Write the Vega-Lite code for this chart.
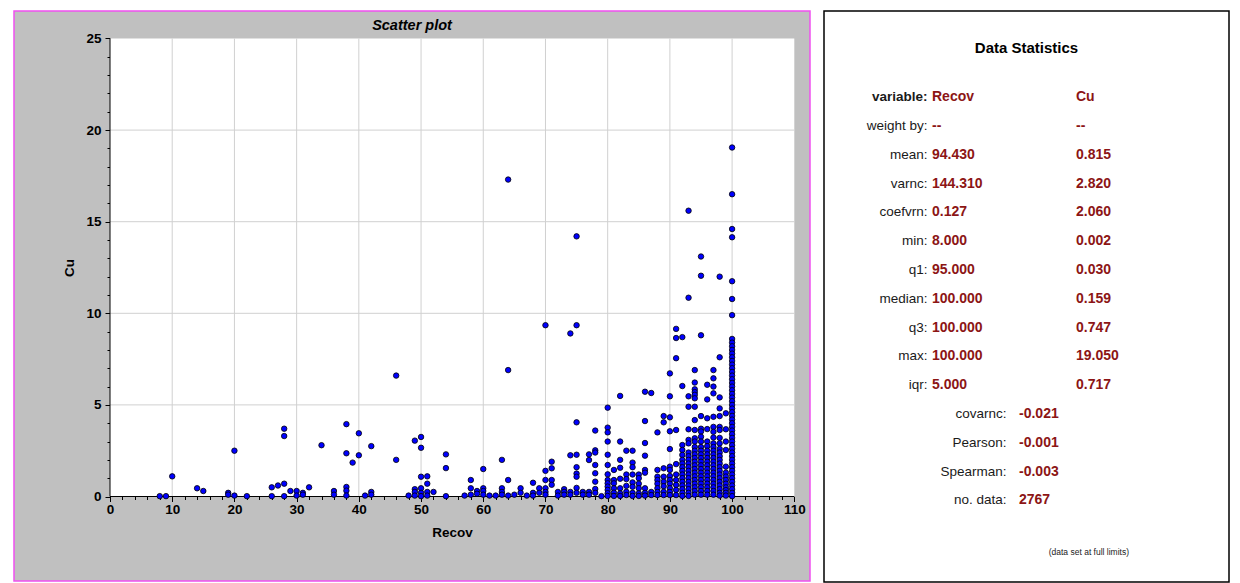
{
  "$schema": "https://vega.github.io/schema/vega-lite/v6.json",
  "background": "white",
  "padding": {"left": 13, "top": 10, "right": 0, "bottom": 0},
  "config": {"font": "Liberation Sans"},
  "spacing": 12,
  "datasets": {
    "samples": [
      {"Recov":8,"Cu":0.02},{"Recov":9,"Cu":0.02},{"Recov":10,"Cu":1.1},{"Recov":14,"Cu":0.45},{"Recov":15,"Cu":0.3},
      {"Recov":19,"Cu":0.2},{"Recov":19,"Cu":0.1},{"Recov":20,"Cu":2.5},{"Recov":20,"Cu":0.05},{"Recov":22,"Cu":0.02},
      {"Recov":26,"Cu":0.5},{"Recov":26,"Cu":0.02},{"Recov":27,"Cu":0.6},{"Recov":28,"Cu":3.7},{"Recov":28,"Cu":3.3},
      {"Recov":28,"Cu":0.7},{"Recov":28,"Cu":0.02},{"Recov":29,"Cu":0.3},{"Recov":30,"Cu":0.3},{"Recov":30,"Cu":0.05},
      {"Recov":31,"Cu":0.2},{"Recov":31,"Cu":0.1},{"Recov":32,"Cu":0.5},{"Recov":34,"Cu":2.8},{"Recov":36,"Cu":0.3},
      {"Recov":36,"Cu":0.1},{"Recov":38,"Cu":3.95},{"Recov":38,"Cu":2.36},{"Recov":38,"Cu":0.52},{"Recov":38,"Cu":0.32},
      {"Recov":38,"Cu":0.05},{"Recov":39,"Cu":1.85},{"Recov":40,"Cu":3.45},{"Recov":40,"Cu":2.25},{"Recov":41,"Cu":0.05},
      {"Recov":42,"Cu":2.75},{"Recov":42,"Cu":0.25},{"Recov":42,"Cu":0.1},{"Recov":46,"Cu":6.6},{"Recov":46,"Cu":2.0},
      {"Recov":48,"Cu":0.05},{"Recov":49,"Cu":3.05},{"Recov":49,"Cu":0.4},{"Recov":49,"Cu":0.25},{"Recov":49,"Cu":0.05},
      {"Recov":50,"Cu":3.25},{"Recov":50,"Cu":2.66},{"Recov":50,"Cu":1.08},{"Recov":50,"Cu":0.45},{"Recov":50,"Cu":0.2},
      {"Recov":50,"Cu":0.02},{"Recov":51,"Cu":1.1},{"Recov":51,"Cu":0.7},{"Recov":51,"Cu":0.25},{"Recov":51,"Cu":0.05},
      {"Recov":52,"Cu":0.25},{"Recov":54,"Cu":2.3},{"Recov":54,"Cu":1.55},{"Recov":54,"Cu":0.02},{"Recov":57,"Cu":0.05},
      {"Recov":58,"Cu":0.9},{"Recov":58,"Cu":0.45},{"Recov":58,"Cu":0.1},{"Recov":59,"Cu":0.3},{"Recov":59,"Cu":0.15},
      {"Recov":60,"Cu":1.5},{"Recov":60,"Cu":0.45},{"Recov":60,"Cu":0.3},{"Recov":60,"Cu":0.1},{"Recov":61,"Cu":0.05},
      {"Recov":62,"Cu":0.05},{"Recov":63,"Cu":2.0},{"Recov":63,"Cu":0.45},{"Recov":63,"Cu":0.25},{"Recov":63,"Cu":0.1},
      {"Recov":64,"Cu":17.3},{"Recov":64,"Cu":6.9},{"Recov":64,"Cu":0.9},{"Recov":64,"Cu":0.05},{"Recov":65,"Cu":0.1},
      {"Recov":66,"Cu":0.45},{"Recov":66,"Cu":0.2},{"Recov":67,"Cu":0.05},{"Recov":68,"Cu":0.75},{"Recov":68,"Cu":0.2},
      {"Recov":68,"Cu":0.05},{"Recov":69,"Cu":0.45},{"Recov":69,"Cu":0.2},{"Recov":70,"Cu":9.35},{"Recov":70,"Cu":1.4},
      {"Recov":70,"Cu":0.9},{"Recov":70,"Cu":0.45},{"Recov":70,"Cu":0.25},{"Recov":70,"Cu":0.1},{"Recov":71,"Cu":1.9},
      {"Recov":71,"Cu":1.54},{"Recov":71,"Cu":0.9},{"Recov":71,"Cu":0.64},{"Recov":72,"Cu":0.25},{"Recov":72,"Cu":0.05},
      {"Recov":73,"Cu":0.4},{"Recov":73,"Cu":0.25},{"Recov":73,"Cu":0.1},{"Recov":74,"Cu":8.9},{"Recov":74,"Cu":2.25},
      {"Recov":74,"Cu":0.25},{"Recov":74,"Cu":0.1},{"Recov":75,"Cu":14.2},{"Recov":75,"Cu":9.35},{"Recov":75,"Cu":4.05},
      {"Recov":75,"Cu":2.28},{"Recov":75,"Cu":1.6},{"Recov":75,"Cu":1.25},{"Recov":75,"Cu":1.08},{"Recov":75,"Cu":0.47},
      {"Recov":75,"Cu":0.2},{"Recov":76,"Cu":0.25},{"Recov":76,"Cu":0.1},{"Recov":77,"Cu":2.3},{"Recov":77,"Cu":1.99},
      {"Recov":77,"Cu":0.25},{"Recov":77,"Cu":0.1},{"Recov":78,"Cu":3.6},{"Recov":78,"Cu":2.52},{"Recov":78,"Cu":2.4},
      {"Recov":78,"Cu":1.72},{"Recov":78,"Cu":1.27},{"Recov":78,"Cu":0.81},{"Recov":78,"Cu":0.41},{"Recov":78,"Cu":0.2},
      {"Recov":79,"Cu":0.02},
      {"Recov":80,"Cu":4.85},{"Recov":80,"Cu":3.76},{"Recov":80,"Cu":3.5},{"Recov":80,"Cu":3.0},{"Recov":80,"Cu":2.28},
      {"Recov":80,"Cu":1.72},{"Recov":80,"Cu":1.21},{"Recov":80,"Cu":0.9},{"Recov":80,"Cu":0.72},{"Recov":80,"Cu":0.54},
      {"Recov":80,"Cu":0.36},{"Recov":80,"Cu":0.18},{"Recov":80,"Cu":0.03},
      {"Recov":81,"Cu":1.45},{"Recov":81,"Cu":0.9},{"Recov":81,"Cu":0.72},{"Recov":81,"Cu":0.45},{"Recov":81,"Cu":0.21},{"Recov":81,"Cu":0.03},
      {"Recov":82,"Cu":5.49},{"Recov":82,"Cu":3.0},{"Recov":82,"Cu":2.0},{"Recov":82,"Cu":1.57},{"Recov":82,"Cu":0.97},
      {"Recov":82,"Cu":0.45},{"Recov":82,"Cu":0.17},{"Recov":82,"Cu":0.03},
      {"Recov":83,"Cu":2.5},{"Recov":83,"Cu":1.2},{"Recov":83,"Cu":0.95},{"Recov":83,"Cu":0.58},{"Recov":83,"Cu":0.26},{"Recov":83,"Cu":0.08},
      {"Recov":84,"Cu":2.5},{"Recov":84,"Cu":1.85},{"Recov":84,"Cu":1.6},{"Recov":84,"Cu":1.2},{"Recov":84,"Cu":0.77},
      {"Recov":84,"Cu":0.53},{"Recov":84,"Cu":0.2},{"Recov":84,"Cu":0.03},
      {"Recov":85,"Cu":1.2},{"Recov":85,"Cu":1.0},{"Recov":85,"Cu":0.7},{"Recov":85,"Cu":0.45},{"Recov":85,"Cu":0.17},{"Recov":85,"Cu":0.03},
      {"Recov":86,"Cu":5.72},{"Recov":86,"Cu":4.12},{"Recov":86,"Cu":2.92},{"Recov":86,"Cu":2.23},{"Recov":86,"Cu":1.45},
      {"Recov":86,"Cu":1.3},{"Recov":86,"Cu":0.45},{"Recov":86,"Cu":0.2},{"Recov":86,"Cu":0.05},
      {"Recov":87,"Cu":5.65},{"Recov":87,"Cu":0.25},{"Recov":87,"Cu":0.08},
      {"Recov":88,"Cu":3.5},{"Recov":88,"Cu":1.45},{"Recov":88,"Cu":1.08},{"Recov":88,"Cu":0.9},{"Recov":88,"Cu":0.7},
      {"Recov":88,"Cu":0.45},{"Recov":88,"Cu":0.25},{"Recov":88,"Cu":0.08},
      {"Recov":89,"Cu":4.39},{"Recov":89,"Cu":4.05},{"Recov":89,"Cu":1.54},{"Recov":89,"Cu":1.08},{"Recov":89,"Cu":0.81},
      {"Recov":89,"Cu":0.56},{"Recov":89,"Cu":0.26},{"Recov":89,"Cu":0.08},
      {"Recov":90,"Cu":6.72},{"Recov":90,"Cu":5.47},{"Recov":90,"Cu":4.32},{"Recov":90,"Cu":3.56},{"Recov":90,"Cu":2.59},
      {"Recov":90,"Cu":1.63},{"Recov":90,"Cu":1.45},{"Recov":90,"Cu":1.12},{"Recov":90,"Cu":0.9},{"Recov":90,"Cu":0.7},
      {"Recov":90,"Cu":0.45},{"Recov":90,"Cu":0.25},{"Recov":90,"Cu":0.08},
      {"Recov":91,"Cu":9.15},{"Recov":91,"Cu":8.65},{"Recov":91,"Cu":7.55},{"Recov":91,"Cu":3.63},{"Recov":91,"Cu":1.77},
      {"Recov":91,"Cu":1.2},{"Recov":91,"Cu":0.9},{"Recov":91,"Cu":0.63},{"Recov":91,"Cu":0.36},{"Recov":91,"Cu":0.08},
      {"Recov":92,"Cu":8.7},{"Recov":92,"Cu":6.03},{"Recov":92,"Cu":2.81},{"Recov":92,"Cu":2.54},{"Recov":92,"Cu":2.27},
      {"Recov":92,"Cu":2.0},{"Recov":92,"Cu":1.8},{"Recov":92,"Cu":1.6},{"Recov":92,"Cu":1.4},{"Recov":92,"Cu":1.2},
      {"Recov":92,"Cu":1.0},{"Recov":92,"Cu":0.8},{"Recov":92,"Cu":0.6},{"Recov":92,"Cu":0.4},{"Recov":92,"Cu":0.2},{"Recov":92,"Cu":0.03},
      {"Recov":93,"Cu":15.6},{"Recov":93,"Cu":10.85},{"Recov":93,"Cu":5.47},{"Recov":93,"Cu":4.9},{"Recov":93,"Cu":3.67},
      {"Recov":93,"Cu":3.09},{"Recov":93,"Cu":2.9},{"Recov":93,"Cu":2.4},{"Recov":93,"Cu":2.2},{"Recov":93,"Cu":2.0},
      {"Recov":93,"Cu":1.8},{"Recov":93,"Cu":1.6},{"Recov":93,"Cu":1.4},{"Recov":93,"Cu":1.2},{"Recov":93,"Cu":1.0},
      {"Recov":93,"Cu":0.8},{"Recov":93,"Cu":0.6},{"Recov":93,"Cu":0.4},{"Recov":93,"Cu":0.2},{"Recov":93,"Cu":0.03},
      {"Recov":94,"Cu":6.9},{"Recov":94,"Cu":6.22},{"Recov":94,"Cu":5.85},{"Recov":94,"Cu":5.7},{"Recov":94,"Cu":5.55},
      {"Recov":94,"Cu":5.36},{"Recov":94,"Cu":4.9},{"Recov":94,"Cu":4.17},{"Recov":94,"Cu":3.63},{"Recov":94,"Cu":3.18},
      {"Recov":94,"Cu":3.0},{"Recov":94,"Cu":2.7},{"Recov":94,"Cu":2.5},{"Recov":94,"Cu":2.3},{"Recov":94,"Cu":2.1},
      {"Recov":94,"Cu":1.9},{"Recov":94,"Cu":1.7},{"Recov":94,"Cu":1.5},{"Recov":94,"Cu":1.3},{"Recov":94,"Cu":1.1},
      {"Recov":94,"Cu":0.9},{"Recov":94,"Cu":0.7},{"Recov":94,"Cu":0.5},{"Recov":94,"Cu":0.3},{"Recov":94,"Cu":0.1},
      {"Recov":95,"Cu":13.1},{"Recov":95,"Cu":12.05},{"Recov":95,"Cu":8.8},{"Recov":95,"Cu":4.39},{"Recov":95,"Cu":3.7},
      {"Recov":95,"Cu":3.55},{"Recov":95,"Cu":3.26},{"Recov":95,"Cu":3.0},{"Recov":95,"Cu":2.7},{"Recov":95,"Cu":2.5},
      {"Recov":95,"Cu":2.3},{"Recov":95,"Cu":2.1},{"Recov":95,"Cu":1.9},{"Recov":95,"Cu":1.7},{"Recov":95,"Cu":1.5},
      {"Recov":95,"Cu":1.3},{"Recov":95,"Cu":1.1},{"Recov":95,"Cu":0.9},{"Recov":95,"Cu":0.7},{"Recov":95,"Cu":0.5},
      {"Recov":95,"Cu":0.3},{"Recov":95,"Cu":0.1},
      {"Recov":96,"Cu":6.1},{"Recov":96,"Cu":5.3},{"Recov":96,"Cu":4.27},{"Recov":96,"Cu":3.68},{"Recov":96,"Cu":3.0},
      {"Recov":96,"Cu":2.75},{"Recov":96,"Cu":2.5},{"Recov":96,"Cu":2.3},{"Recov":96,"Cu":2.1},{"Recov":96,"Cu":1.9},
      {"Recov":96,"Cu":1.7},{"Recov":96,"Cu":1.5},{"Recov":96,"Cu":1.3},{"Recov":96,"Cu":1.1},{"Recov":96,"Cu":0.9},
      {"Recov":96,"Cu":0.7},{"Recov":96,"Cu":0.5},{"Recov":96,"Cu":0.3},{"Recov":96,"Cu":0.1},
      {"Recov":97,"Cu":6.9},{"Recov":97,"Cu":6.45},{"Recov":97,"Cu":6.0},{"Recov":97,"Cu":5.63},{"Recov":97,"Cu":4.35},
      {"Recov":97,"Cu":3.8},{"Recov":97,"Cu":3.53},{"Recov":97,"Cu":3.22},{"Recov":97,"Cu":2.9},{"Recov":97,"Cu":2.7},
      {"Recov":97,"Cu":2.5},{"Recov":97,"Cu":2.3},{"Recov":97,"Cu":2.1},{"Recov":97,"Cu":1.9},{"Recov":97,"Cu":1.7},
      {"Recov":97,"Cu":1.5},{"Recov":97,"Cu":1.3},{"Recov":97,"Cu":1.1},{"Recov":97,"Cu":0.9},{"Recov":97,"Cu":0.7},
      {"Recov":97,"Cu":0.5},{"Recov":97,"Cu":0.3},{"Recov":97,"Cu":0.1},
      {"Recov":98,"Cu":12.0},{"Recov":98,"Cu":7.6},{"Recov":98,"Cu":5.41},{"Recov":98,"Cu":4.81},{"Recov":98,"Cu":4.39},
      {"Recov":98,"Cu":3.8},{"Recov":98,"Cu":3.63},{"Recov":98,"Cu":3.2},{"Recov":98,"Cu":2.9},{"Recov":98,"Cu":2.6},
      {"Recov":98,"Cu":2.4},{"Recov":98,"Cu":2.2},{"Recov":98,"Cu":2.0},{"Recov":98,"Cu":1.8},{"Recov":98,"Cu":1.6},
      {"Recov":98,"Cu":1.4},{"Recov":98,"Cu":1.2},{"Recov":98,"Cu":1.0},{"Recov":98,"Cu":0.8},{"Recov":98,"Cu":0.6},
      {"Recov":98,"Cu":0.4},{"Recov":98,"Cu":0.2},{"Recov":98,"Cu":0.05},
      {"Recov":99,"Cu":4.54},{"Recov":99,"Cu":3.67},{"Recov":99,"Cu":3.0},{"Recov":99,"Cu":2.54},{"Recov":99,"Cu":1.63},
      {"Recov":99,"Cu":1.3},{"Recov":99,"Cu":1.09},{"Recov":99,"Cu":0.9},{"Recov":99,"Cu":0.7},{"Recov":99,"Cu":0.5},
      {"Recov":99,"Cu":0.35},{"Recov":99,"Cu":0.2},{"Recov":99,"Cu":0.05},
      {"Recov":100,"Cu":19.05},{"Recov":100,"Cu":16.5},{"Recov":100,"Cu":14.6},{"Recov":100,"Cu":14.15},{"Recov":100,"Cu":11.75},
      {"Recov":100,"Cu":10.78},{"Recov":100,"Cu":9.9},{"Recov":100,"Cu":8.6},{"Recov":100,"Cu":8.4},{"Recov":100,"Cu":8.2},
      {"Recov":100,"Cu":8.0},{"Recov":100,"Cu":7.8},{"Recov":100,"Cu":7.6},{"Recov":100,"Cu":7.4},{"Recov":100,"Cu":7.2},
      {"Recov":100,"Cu":7.0},{"Recov":100,"Cu":6.8},{"Recov":100,"Cu":6.6},{"Recov":100,"Cu":6.4},{"Recov":100,"Cu":6.2},
      {"Recov":100,"Cu":6.0},{"Recov":100,"Cu":5.8},{"Recov":100,"Cu":5.6},{"Recov":100,"Cu":5.4},{"Recov":100,"Cu":5.2},
      {"Recov":100,"Cu":5.0},{"Recov":100,"Cu":4.8},{"Recov":100,"Cu":4.6},{"Recov":100,"Cu":4.4},{"Recov":100,"Cu":4.2},
      {"Recov":100,"Cu":4.0},{"Recov":100,"Cu":3.8},{"Recov":100,"Cu":3.6},{"Recov":100,"Cu":3.4},{"Recov":100,"Cu":3.2},
      {"Recov":100,"Cu":3.0},{"Recov":100,"Cu":2.8},{"Recov":100,"Cu":2.6},{"Recov":100,"Cu":2.4},{"Recov":100,"Cu":2.2},
      {"Recov":100,"Cu":2.0},{"Recov":100,"Cu":1.8},{"Recov":100,"Cu":1.6},{"Recov":100,"Cu":1.4},{"Recov":100,"Cu":1.2},
      {"Recov":100,"Cu":1.0},{"Recov":100,"Cu":0.8},{"Recov":100,"Cu":0.6},{"Recov":100,"Cu":0.4},{"Recov":100,"Cu":0.2},
      {"Recov":100,"Cu":0.02}
    ],
    "stats": [
      {"row":1,"stat":"variable:","recov":"Recov","cu":"Cu"},
      {"row":2,"stat":"weight by:","recov":"--","cu":"--"},
      {"row":3,"stat":"mean:","recov":"94.430","cu":"0.815"},
      {"row":4,"stat":"varnc:","recov":"144.310","cu":"2.820"},
      {"row":5,"stat":"coefvrn:","recov":"0.127","cu":"2.060"},
      {"row":6,"stat":"min:","recov":"8.000","cu":"0.002"},
      {"row":7,"stat":"q1:","recov":"95.000","cu":"0.030"},
      {"row":8,"stat":"median:","recov":"100.000","cu":"0.159"},
      {"row":9,"stat":"q3:","recov":"100.000","cu":"0.747"},
      {"row":10,"stat":"max:","recov":"100.000","cu":"19.050"},
      {"row":11,"stat":"iqr:","recov":"5.000","cu":"0.717"}
    ],
    "pairs": [
      {"row":12,"stat":"covarnc:","value":"-0.021"},
      {"row":13,"stat":"Pearson:","value":"-0.001"},
      {"row":14,"stat":"Spearman:","value":"-0.003"},
      {"row":15,"stat":"no. data:","value":"2767"}
    ]
  },
  "hconcat": [
    {
      "width": 796,
      "height": 570,
      "view": {"fill": "#c0c0c0", "stroke": "#f050f0", "strokeWidth": 1.5},
      "title": {
        "text": "Scatter plot", "fontSize": 14.5, "fontWeight": "bold", "fontStyle": "italic",
        "color": "black", "anchor": "middle", "frame": "group", "baseline": "middle", "offset": -29
      },
      "resolve": {"axis": {"x": "independent", "y": "independent"}},
      "layer": [
        {
          "data": {"values": [{"x0": 0, "x1": 110, "y0": 0, "y1": 25}]},
          "mark": {"type": "rect", "fill": "white", "strokeWidth": 0},
          "encoding": {
            "x": {
              "field": "x0", "type": "quantitative",
              "scale": {"domain": [-15.432, 112.522], "nice": false, "zero": false},
              "axis": {
                "orient": "bottom", "offset": -84.5, "domain": false, "grid": false,
                "values": [0, 10, 20, 30, 40, 50, 60, 70, 80, 90, 100, 110],
                "tickSize": 5, "tickColor": "black", "tickWidth": 1,
                "labelFontSize": 13.5, "labelFontWeight": "bold", "labelColor": "black",
                "labelPadding": 1, "labelFlush": false, "labelOverlap": false,
                "title": "Recov", "titleFontSize": 13.5, "titleFontWeight": "bold", "titleColor": "black",
                "titleX": 438, "titleY": 36, "titleBaseline": "middle", "titleAlign": "center"
              }
            },
            "x2": {"field": "x1"},
            "y": {
              "field": "y0", "type": "quantitative",
              "scale": {"domain": [-4.612, 26.501], "nice": false, "zero": false},
              "axis": {
                "orient": "left", "offset": -96, "domain": false, "grid": false,
                "values": [0, 5, 10, 15, 20, 25],
                "tickSize": 5, "tickColor": "black", "tickWidth": 1,
                "labelFontSize": 13.5, "labelFontWeight": "bold", "labelColor": "black",
                "labelPadding": 4, "labelFlush": false, "labelOverlap": false,
                "title": "Cu", "titleFontSize": 13.5, "titleFontWeight": "bold", "titleColor": "black",
                "titleX": -41, "titleY": 256.5, "titleAngle": -90, "titleBaseline": "middle", "titleAlign": "center"
              }
            },
            "y2": {"field": "y1"}
          }
        },
        {
          "data": {"values": [{"g": 10}, {"g": 20}, {"g": 30}, {"g": 40}, {"g": 50}, {"g": 60}, {"g": 70}, {"g": 80}, {"g": 90}, {"g": 100}]},
          "mark": {"type": "rule", "color": "#d0d0d0", "strokeWidth": 1},
          "encoding": {
            "x": {
              "field": "g", "type": "quantitative",
              "scale": {"domain": [-15.432, 112.522], "nice": false, "zero": false},
              "axis": {
                "orient": "bottom", "offset": -84.5, "domain": false, "grid": false, "labels": false, "title": null,
                "values": [2,4,6,8,12,14,16,18,22,24,26,28,32,34,36,38,42,44,46,48,52,54,56,58,62,64,66,68,72,74,76,78,82,84,86,88,92,94,96,98,102,104,106,108],
                "tickSize": 3, "tickColor": "black", "tickWidth": 1
              }
            },
            "y": {"datum": 0, "type": "quantitative", "scale": {"domain": [-4.612, 26.501], "nice": false, "zero": false}, "axis": null},
            "y2": {"datum": 25}
          }
        },
        {
          "data": {"values": [{"g": 5}, {"g": 10}, {"g": 15}, {"g": 20}]},
          "mark": {"type": "rule", "color": "#d0d0d0", "strokeWidth": 1},
          "encoding": {
            "y": {
              "field": "g", "type": "quantitative",
              "scale": {"domain": [-4.612, 26.501], "nice": false, "zero": false},
              "axis": {
                "orient": "left", "offset": -96, "domain": false, "grid": false, "labels": false, "title": null,
                "values": [1,2,3,4,6,7,8,9,11,12,13,14,16,17,18,19,21,22,23,24],
                "tickSize": 3, "tickColor": "black", "tickWidth": 1
              }
            },
            "x": {"datum": 0, "type": "quantitative", "scale": {"domain": [-15.432, 112.522], "nice": false, "zero": false}, "axis": null},
            "x2": {"datum": 110}
          }
        },
        {
          "data": {"values": [{"a": 0, "b": 110, "c": 0, "d": 0}, {"a": 0, "b": 0, "c": 0, "d": 25}]},
          "mark": {"type": "rule", "color": "black", "strokeWidth": 1},
          "encoding": {
            "x": {"field": "a", "type": "quantitative", "scale": {"domain": [-15.432, 112.522], "nice": false, "zero": false}, "axis": null},
            "x2": {"field": "b"},
            "y": {"field": "c", "type": "quantitative", "scale": {"domain": [-4.612, 26.501], "nice": false, "zero": false}, "axis": null},
            "y2": {"field": "d"}
          }
        },
        {
          "data": {"name": "samples"},
          "mark": {"type": "circle", "size": 30, "color": "#0000ff", "stroke": "black", "strokeWidth": 0.8, "opacity": 1},
          "encoding": {
            "x": {"field": "Recov", "type": "quantitative", "scale": {"domain": [-15.432, 112.522], "nice": false, "zero": false}, "axis": null},
            "y": {"field": "Cu", "type": "quantitative", "scale": {"domain": [-4.612, 26.501], "nice": false, "zero": false}, "axis": null}
          }
        }
      ]
    },
    {
      "width": 405,
      "height": 571,
      "view": {"fill": "white", "stroke": "black", "strokeWidth": 1.5},
      "title": {
        "text": "Data Statistics", "fontSize": 15, "fontWeight": "bold", "color": "black",
        "anchor": "middle", "frame": "group", "baseline": "middle", "offset": -52
      },
      "layer": [
        {
          "data": {"name": "stats"},
          "transform": [{"filter": "datum.row > 1"}],
          "mark": {"type": "text", "align": "right", "baseline": "middle", "fontSize": 13.5, "color": "#1a1a1a"},
          "encoding": {
            "x": {"datum": 0.2556, "type": "quantitative", "scale": {"domain": [0, 1], "nice": false, "zero": false}, "axis": null},
            "y": {"field": "row", "type": "quantitative", "scale": {"domain": [-1.998, 17.836], "reverse": true, "nice": false, "zero": false}, "axis": null},
            "text": {"field": "stat"}
          }
        },
        {
          "data": {"name": "stats"},
          "transform": [{"filter": "datum.row == 1"}],
          "mark": {"type": "text", "align": "right", "baseline": "middle", "fontSize": 13.5, "fontWeight": "bold", "color": "#1a1a1a"},
          "encoding": {
            "x": {"datum": 0.2556, "type": "quantitative", "axis": null},
            "y": {"field": "row", "type": "quantitative", "axis": null},
            "text": {"field": "stat"}
          }
        },
        {
          "data": {"name": "stats"},
          "mark": {"type": "text", "align": "left", "baseline": "middle", "fontSize": 14, "fontWeight": "bold", "color": "#8c1515"},
          "encoding": {
            "x": {"datum": 0.2667, "type": "quantitative", "axis": null},
            "y": {"field": "row", "type": "quantitative", "axis": null},
            "text": {"field": "recov"}
          }
        },
        {
          "data": {"name": "stats"},
          "mark": {"type": "text", "align": "left", "baseline": "middle", "fontSize": 14, "fontWeight": "bold", "color": "#8c1515"},
          "encoding": {
            "x": {"datum": 0.6222, "type": "quantitative", "axis": null},
            "y": {"field": "row", "type": "quantitative", "axis": null},
            "text": {"field": "cu"}
          }
        },
        {
          "data": {"name": "pairs"},
          "mark": {"type": "text", "align": "right", "baseline": "middle", "fontSize": 13.5, "color": "#1a1a1a"},
          "encoding": {
            "x": {"datum": 0.4506, "type": "quantitative", "axis": null},
            "y": {"field": "row", "type": "quantitative", "axis": null},
            "text": {"field": "stat"}
          }
        },
        {
          "data": {"name": "pairs"},
          "mark": {"type": "text", "align": "left", "baseline": "middle", "fontSize": 14, "fontWeight": "bold", "color": "#8c1515"},
          "encoding": {
            "x": {"datum": 0.4815, "type": "quantitative", "axis": null},
            "y": {"field": "row", "type": "quantitative", "axis": null},
            "text": {"field": "value"}
          }
        },
        {
          "data": {"values": [{"row": 17, "note": "(data set at full limits)"}]},
          "mark": {"type": "text", "align": "center", "baseline": "middle", "fontSize": 8.5, "color": "#222222", "dy": -6},
          "encoding": {
            "x": {"datum": 0.654, "type": "quantitative", "axis": null},
            "y": {"field": "row", "type": "quantitative", "axis": null},
            "text": {"field": "note"}
          }
        }
      ]
    }
  ]
}
